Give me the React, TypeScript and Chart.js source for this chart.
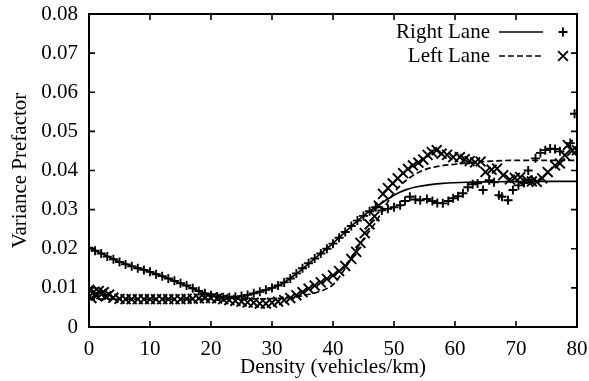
import React, { useEffect, useRef } from 'react';
import { Chart, registerables } from 'chart.js';
import { drawPoint } from 'chart.js/helpers';

Chart.register(...registerables);

const xTicks = [0, 10, 20, 30, 40, 50, 60, 70, 80];
const xTickLabels = ['0', '10', '20', '30', '40', '50', '60', '70', '80'];
const yTicks = [0, 0.01, 0.02, 0.03, 0.04, 0.05, 0.06, 0.07, 0.08];
const yTickLabels = ['0', '0.01', '0.02', '0.03', '0.04', '0.05', '0.06', '0.07', '0.08'];

const legendLabels = ['Right Lane', 'Left Lane'];
const xTitle = 'Density (vehicles/km)';
const yTitle = 'Variance Prefactor';

// Right lane measurements (+)
const rightLane: [number, number][] = [
  [0, 0.0203], [1, 0.0195], [2, 0.0188], [3, 0.018], [4, 0.0173], [5, 0.0166], [6, 0.016], [7, 0.0155],
  [8, 0.015], [9, 0.0146], [10, 0.0141], [11, 0.0135], [12, 0.013], [13, 0.0124], [14, 0.0118], [15, 0.0112],
  [16, 0.0106], [17, 0.0099], [18, 0.0092], [19, 0.0086], [20, 0.0081], [21, 0.0078], [22, 0.0076], [23, 0.0076],
  [24, 0.0077], [25, 0.0079], [26, 0.0082], [27, 0.0086], [28, 0.009], [29, 0.0095], [30, 0.01], [31, 0.0106],
  [32, 0.0114], [33, 0.0124], [34, 0.0137], [35, 0.015], [36, 0.0163], [37, 0.0175], [38, 0.0188], [39, 0.02],
  [40, 0.0213], [41, 0.0228], [42, 0.0243], [43, 0.0258], [44, 0.0272], [45, 0.0284], [46, 0.0296], [47, 0.0306],
  [48, 0.0298], [49, 0.0302], [50, 0.0306], [51, 0.0311], [51.8, 0.0322], [52.6, 0.0333], [53.5, 0.0326],
  [54.3, 0.0324], [55.4, 0.0327], [56.3, 0.0322], [57.1, 0.0317], [58, 0.0316], [58.9, 0.0322], [59.7, 0.0329],
  [60.5, 0.0334], [61.3, 0.0342], [62.1, 0.0357], [62.9, 0.0365], [63.7, 0.0367], [64.6, 0.035], [65.6, 0.0375],
  [66.4, 0.037], [67.2, 0.0337], [67.7, 0.0333], [68.7, 0.0324], [69.5, 0.035], [70.4, 0.0362], [71.3, 0.0368],
  [72.0, 0.04], [72.6, 0.0376], [73.2, 0.0431], [74.0, 0.0445], [74.8, 0.0452], [75.6, 0.0456], [76.4, 0.0455],
  [77.2, 0.0449], [78.9, 0.047], [79.6, 0.0545],
];

// Left lane measurements (x)
const leftLane: [number, number][] = [
  [0, 0.0095], [0.4, 0.0074], [0.8, 0.009], [1.2, 0.008], [1.6, 0.0092], [2.0, 0.0084], [2.4, 0.0089], [2.8, 0.0078],
  [3.3, 0.0083], [4, 0.0075], [5, 0.0072], [6, 0.0071], [7, 0.0071], [8, 0.0071], [9, 0.0071], [10, 0.0071],
  [11, 0.0071], [12, 0.0071], [13, 0.0071], [14, 0.0071], [15, 0.0071], [16, 0.0072], [17, 0.0072], [18, 0.0073],
  [19, 0.0074], [20, 0.0074], [21, 0.0073], [22, 0.0071], [23, 0.0069], [24, 0.0067], [25, 0.0065], [26, 0.0063],
  [27, 0.0062], [28, 0.006], [29, 0.006], [30, 0.0062], [31, 0.0065], [32, 0.0069], [33, 0.0074], [34, 0.0081],
  [35, 0.0089], [36, 0.0098], [37, 0.0106], [38, 0.0114], [39, 0.0123], [40, 0.0132], [41, 0.0143], [42, 0.0156],
  [43, 0.0174], [43.8, 0.0192], [44.5, 0.0215], [45.2, 0.024], [46, 0.0262], [46.8, 0.0283], [47.5, 0.031],
  [48.2, 0.034], [49, 0.0355], [49.8, 0.0367], [50.6, 0.038], [51.5, 0.0393], [52.3, 0.0404], [53.1, 0.0413],
  [54, 0.042], [54.8, 0.0428], [55.5, 0.044], [56.2, 0.0447], [57.0, 0.0452], [57.8, 0.0443], [58.7, 0.044],
  [59.7, 0.0434], [60.8, 0.0434], [61.6, 0.0429], [62.4, 0.0424], [63.3, 0.0421], [64.2, 0.0423], [65.0, 0.0396],
  [66.0, 0.0402], [66.9, 0.0405], [67.9, 0.0388], [69.0, 0.0377], [69.8, 0.0381], [70.7, 0.0383], [71.8, 0.0375],
  [72.6, 0.0372], [73.4, 0.0371], [74.3, 0.038], [75.2, 0.0396], [76.4, 0.0413], [77.2, 0.0418], [78.0, 0.0439],
  [78.5, 0.0465], [79.2, 0.045], [80, 0.0452],
];

// Fitted curves
const rightFit: [number, number][] = [
  [0, 0.0203], [2, 0.0188], [5, 0.0167], [8, 0.0151], [10, 0.0141], [13, 0.0124], [16, 0.0105], [18, 0.0092],
  [20, 0.0081], [22, 0.0076], [24, 0.0077], [26, 0.0082], [28, 0.009], [30, 0.01], [32, 0.0114], [34, 0.0136],
  [36, 0.0162], [38, 0.0188], [40, 0.0214], [42, 0.0243], [44, 0.0271], [46, 0.0296], [48, 0.0317], [50, 0.0337],
  [52, 0.0351], [54, 0.0359], [56, 0.0364], [58, 0.0367], [62, 0.037], [66, 0.0371], [72, 0.0372], [80, 0.0372],
];

const leftFit: [number, number][] = [
  [0, 0.0071], [10, 0.0071], [20, 0.0071], [28, 0.0072], [32, 0.0074], [35, 0.008], [38, 0.0092], [40, 0.0108],
  [42, 0.015], [43, 0.0177], [44, 0.0202], [45, 0.0225], [46, 0.0246], [47, 0.0268], [48, 0.0294], [49, 0.032],
  [50, 0.0343], [51, 0.0361], [52, 0.0375], [53, 0.0386], [54, 0.0395], [55, 0.0402], [57, 0.041], [60, 0.0416],
  [63, 0.0421], [66, 0.0424], [70, 0.0426], [80, 0.0426],
];

const FONT = '"Liberation Serif", "Times New Roman", serif';
const FONT_SIZE = 21;
const toXY = (arr: [number, number][]) => arr.map(([x, y]) => ({ x, y }));

const gnuplotFrame = {
  id: 'gnuplotFrame',
  afterDraw(chart: any) {
    const { ctx, chartArea: a, scales } = chart;
    const xs = scales.x;
    const ys = scales.y;
    const TICK = 6;
    ctx.save();
    ctx.strokeStyle = '#000';
    ctx.fillStyle = '#000';
    ctx.setLineDash([]);
    ctx.lineWidth = 2;
    ctx.strokeRect(a.left, a.top, a.right - a.left, a.bottom - a.top);
    ctx.lineWidth = 1.6;
    ctx.beginPath();
    for (const t of xs.ticks) {
      const px = xs.getPixelForValue(t.value);
      ctx.moveTo(px, a.bottom);
      ctx.lineTo(px, a.bottom - TICK);
      ctx.moveTo(px, a.top);
      ctx.lineTo(px, a.top + TICK);
    }
    for (const t of ys.ticks) {
      const py = ys.getPixelForValue(t.value);
      ctx.moveTo(a.left, py);
      ctx.lineTo(a.left + TICK, py);
      ctx.moveTo(a.right, py);
      ctx.lineTo(a.right - TICK, py);
    }
    ctx.stroke();

    // legend (gnuplot style: text, line sample, point sample)
    const ds = chart.data.datasets;
    const entries = [
      { label: legendLabels[0], fit: ds[0], pts: ds[2] },
      { label: legendLabels[1], fit: ds[1], pts: ds[3] },
    ];
    ctx.font = `${FONT_SIZE}px ${FONT}`;
    ctx.textAlign = 'right';
    ctx.textBaseline = 'alphabetic';
    entries.forEach((e, i) => {
      const base = a.top + 24 + i * 24;
      const ly = base - 6;
      ctx.fillText(e.label, a.right - 87, base);
      ctx.lineWidth = e.fit.borderWidth;
      ctx.setLineDash(e.fit.borderDash || []);
      ctx.beginPath();
      ctx.moveTo(a.right - 78, ly);
      ctx.lineTo(a.right - 34, ly);
      ctx.stroke();
      ctx.setLineDash([]);
      ctx.lineWidth = e.pts.pointBorderWidth;
      drawPoint(ctx, { pointStyle: e.pts.pointStyle, radius: e.pts.pointRadius, rotation: 0, borderWidth: e.pts.pointBorderWidth } as any, a.right - 14, ly);
    });
    ctx.restore();
  },
};

export default function App() {
  const ref = useRef<HTMLCanvasElement | null>(null);
  useEffect(() => {
    if (!ref.current) return;
    Chart.defaults.font.family = FONT;
    Chart.defaults.color = '#000';
    const font = { family: FONT, size: FONT_SIZE };
    const chart = new Chart(ref.current, {
      type: 'scatter',
      data: {
        datasets: [
          {
            label: 'Right Lane fit',
            data: toXY(rightFit),
            showLine: true,
            borderColor: '#000',
            borderWidth: 1.7,
            pointRadius: 0,
            fill: false,
            cubicInterpolationMode: 'monotone',
          } as any,
          {
            label: 'Left Lane fit',
            data: toXY(leftFit),
            showLine: true,
            borderColor: '#000',
            borderWidth: 1.7,
            borderDash: [6, 3],
            pointRadius: 0,
            fill: false,
            cubicInterpolationMode: 'monotone',
          } as any,
          {
            label: legendLabels[0],
            data: toXY(rightLane),
            showLine: false,
            pointStyle: 'cross',
            pointRadius: 4.5,
            pointBorderWidth: 1.9,
            borderColor: '#000',
            backgroundColor: '#000',
          } as any,
          {
            label: legendLabels[1],
            data: toXY(leftLane),
            showLine: false,
            pointStyle: 'crossRot',
            pointRadius: 7,
            pointBorderWidth: 1.9,
            borderColor: '#000',
            backgroundColor: '#000',
          } as any,
        ],
      },
      options: {
        animation: false,
        responsive: false,
        events: [],
        layout: { padding: 0 },
        plugins: { legend: { display: false }, tooltip: { enabled: false } },
        scales: {
          x: {
            type: 'linear',
            min: 0,
            max: 80,
            afterBuildTicks: (s: any) => {
              s.ticks = xTicks.map((v) => ({ value: v }));
            },
            afterFit: (s: any) => {
              s.height = 54;
              s.paddingLeft = 0;
              s.paddingRight = 12;
            },
            ticks: {
              callback: (_v: any, i: number) => xTickLabels[i],
              font,
              color: '#000',
              padding: 10,
              maxRotation: 0,
              autoSkip: false,
            },
            grid: { display: false, drawTicks: false },
            border: { display: false },
            title: { display: true, text: xTitle, font, color: '#000', padding: { top: 0, bottom: 1 } },
          },
          y: {
            type: 'linear',
            min: 0,
            max: 0.08,
            afterBuildTicks: (s: any) => {
              s.ticks = yTicks.map((v) => ({ value: v }));
            },
            afterFit: (s: any) => {
              s.width = 89;
              s.paddingTop = 14;
              s.paddingBottom = 0;
            },
            ticks: {
              callback: (_v: any, i: number) => yTickLabels[i],
              font,
              color: '#000',
              padding: 11,
              autoSkip: false,
            },
            grid: { display: false, drawTicks: false },
            border: { display: false },
            title: { display: true, text: yTitle, font, color: '#000', padding: { top: 8, bottom: 0 } },
          },
        },
      },
      plugins: [gnuplotFrame],
    });
    return () => chart.destroy();
  }, []);

  return (
    <div style={{ position: 'absolute', left: 0, top: 0, width: 589, height: 381, background: '#fff' }}>
      <canvas ref={ref} width={589} height={381} style={{ display: 'block' }} />
    </div>
  );
}
